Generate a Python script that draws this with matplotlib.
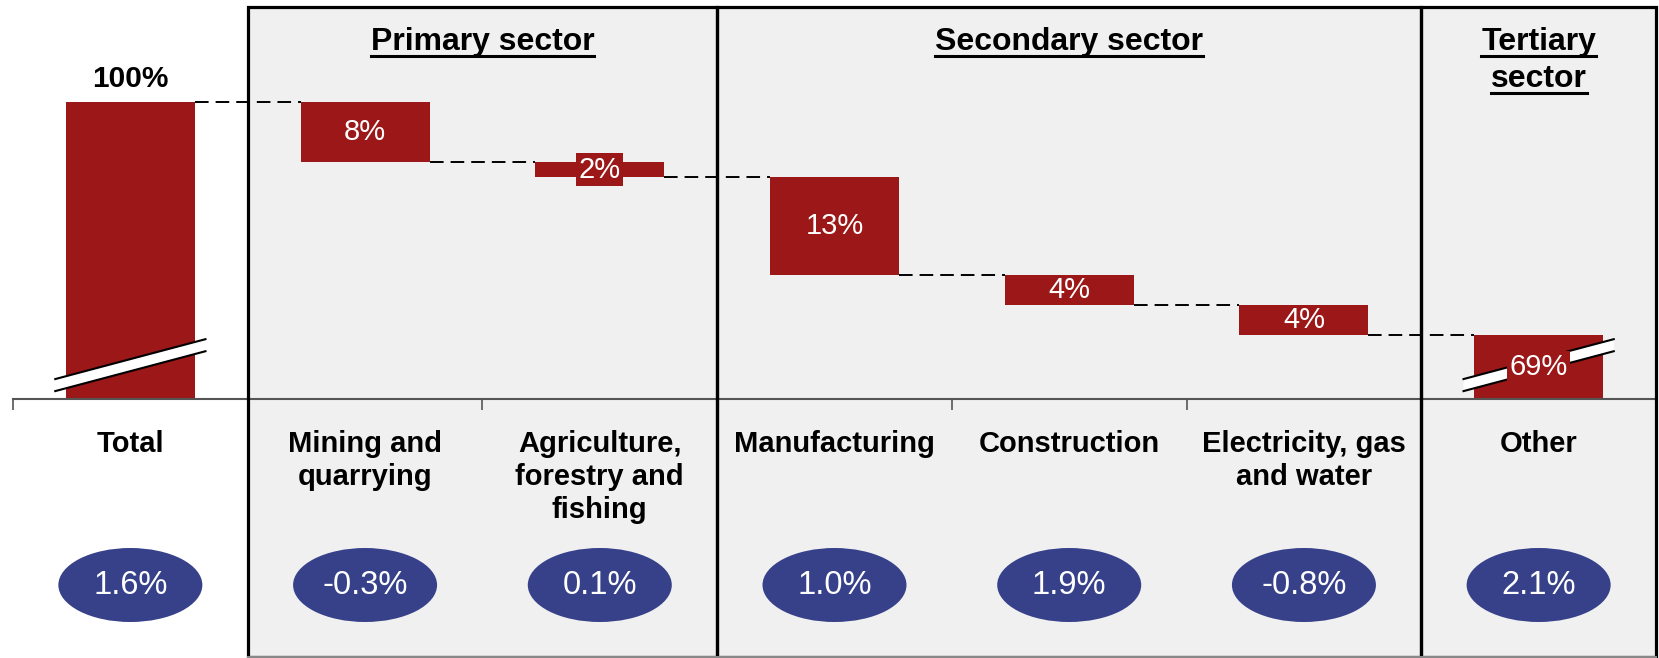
import matplotlib
matplotlib.use('Agg')
import matplotlib.pyplot as plt
from matplotlib.patches import Rectangle, Ellipse, Polygon
from matplotlib.transforms import blended_transform_factory

plt.rcParams['font.family'] = ['Liberation Sans', 'DejaVu Sans']

# data
categories = ['Total', 'Mining and\nquarrying', 'Agriculture,\nforestry and\nfishing',
              'Manufacturing', 'Construction', 'Electricity, gas\nand water', 'Other']
shares = [100, 8, 2, 13, 4, 4, 69]          # share of total, %
growth = [1.6, -0.3, 0.1, 1.0, 1.9, -0.8, 2.1]
sector_names = [['Primary sector'], ['Secondary sector'], ['Tertiary', 'sector']]
sector_first = [1, 3, 6]
sector_last = [2, 5, 6]

RED = '#9b1718'
BLUE = '#37418a'
PANEL = '#f0f0f0'

W, H = 1659, 658
fig = plt.figure(figsize=(W / 100, H / 100), dpi=100)
ax = fig.add_axes([13 / W, (H - 399) / H, (1656 - 13) / W, (399 - 7) / H])
ax.patch.set_visible(False)

base = 60.5   # axis is broken, bars of total and other start here
ax.set_xlim(-0.5, len(categories) - 0.5)
ax.set_ylim(base, 112.6)
for s in ('top', 'right', 'left'):
    ax.spines[s].set_visible(False)
ax.spines['bottom'].set_color('#555555')
ax.spines['bottom'].set_linewidth(1.5)
ax.set_yticks([])
ax.set_xticks([i - 0.5 for i in range(len(categories) + 1)])
ax.set_xticklabels([])
ax.tick_params(axis='x', length=8, width=1.2, color='#555555', direction='out')

bt = blended_transform_factory(ax.transData, fig.transFigure)

# sector panels
top_f = (H - 7) / H
bot_f = 1.0 / H
for a, b in zip(sector_first, sector_last):
    ax.add_patch(Rectangle((a - 0.5, bot_f), b - a + 1, top_f - bot_f, transform=bt,
                           facecolor=PANEL, edgecolor='none', zorder=0, clip_on=False))
    ax.add_patch(Rectangle((a - 0.5, bot_f), b - a + 1, top_f - bot_f, transform=bt,
                           facecolor='none', edgecolor='black', lw=2.3, zorder=4, clip_on=False))
# gray bottom edge
ax.plot([0.5, len(categories) - 0.5], [bot_f, bot_f], transform=bt, color='#888888',
        lw=1.5, zorder=4, clip_on=False)

# waterfall
bw = 0.55
level = shares[0]
tops, bottoms = [], []
for i, v in enumerate(shares):
    if i == 0:
        tops.append(v); bottoms.append(base)
    elif i == len(shares) - 1:
        tops.append(level); bottoms.append(base)
    else:
        tops.append(level); bottoms.append(level - v)
        level -= v
for i in range(len(shares)):
    ax.bar(i, tops[i] - bottoms[i], bottom=bottoms[i], width=bw, color=RED, zorder=2)

# dashed connectors
for i in range(len(shares) - 1):
    y = bottoms[i] if 0 < i else tops[i]
    ax.plot([i + bw / 2, i + 1 - bw / 2], [y, y], color='black', lw=1.4,
            ls=(0, (7, 3.6)), zorder=3)

# break marks on total and other
for i in (0, len(shares) - 1):
    x0, x1 = i - 0.32, i + 0.32
    yc = 65.0
    lo0, lo1 = yc - 3.45, yc + 1.85
    hi0, hi1 = yc - 1.85, yc + 3.45
    ax.add_patch(Polygon([[x0, lo0], [x1, lo1], [x1, hi1], [x0, hi0]],
                         facecolor='white', edgecolor='none', zorder=3))
    ax.plot([x0, x1], [lo0, lo1], color='black', lw=1.5, zorder=3)
    ax.plot([x0, x1], [hi0, hi1], color='black', lw=1.5, zorder=3)

# bar labels
ax.text(0, tops[0] + 3.0, f'{shares[0]}%', ha='center', va='center', fontsize=21.5,
        fontweight='bold', zorder=5)
for i in range(1, len(shares)):
    yc = (tops[i] + bottoms[i]) / 2
    box = None
    if shares[i] < 3 or i == len(shares) - 1:
        box = dict(boxstyle='square,pad=0.08', facecolor=RED, edgecolor='none')
    ax.text(i, yc, f'{shares[i]}%', ha='center', va='center', fontsize=21, color='white',
            zorder=5, bbox=box)

# category labels
for i, c in enumerate(categories):
    ax.text(i, (H - 430) / H, c, transform=bt, ha='center', va='top', fontsize=21,
            fontweight='bold', linespacing=1.22, zorder=5)

# growth ellipses
ey = (H - 585) / H
for i, g in enumerate(growth):
    ax.add_patch(Ellipse((i, ey), 144 / 234.7, 74 / H, transform=bt, facecolor=BLUE,
                         edgecolor='none', zorder=3, clip_on=False))
    ax.text(i, ey, f'{g:.1f}%', transform=bt, ha='center', va='center', fontsize=23.5,
            color='white', zorder=5)

# sector headers, underlined
headers = []
for names, a, b in zip(sector_names, sector_first, sector_last):
    xc = (a + b) / 2
    for k, line in enumerate(names):
        yl = (H - 42 - 37 * k) / H
        headers.append(ax.text(xc, yl, line, transform=bt, ha='center', va='center',
                               fontsize=23, fontweight='bold', zorder=5))
fig.canvas.draw()
r = fig.canvas.get_renderer()
inv = fig.transFigure.inverted()
for t in headers:
    bb = t.get_window_extent(r)
    (fx0, fy0), (fx1, fy1) = inv.transform([[bb.x0, bb.y0 + 1], [bb.x1, bb.y1]])
    fig.add_artist(plt.Line2D([fx0, fx1], [fy0, fy0], transform=fig.transFigure,
                              color='black', lw=2.2))

fig.savefig('out.png', dpi=100)
